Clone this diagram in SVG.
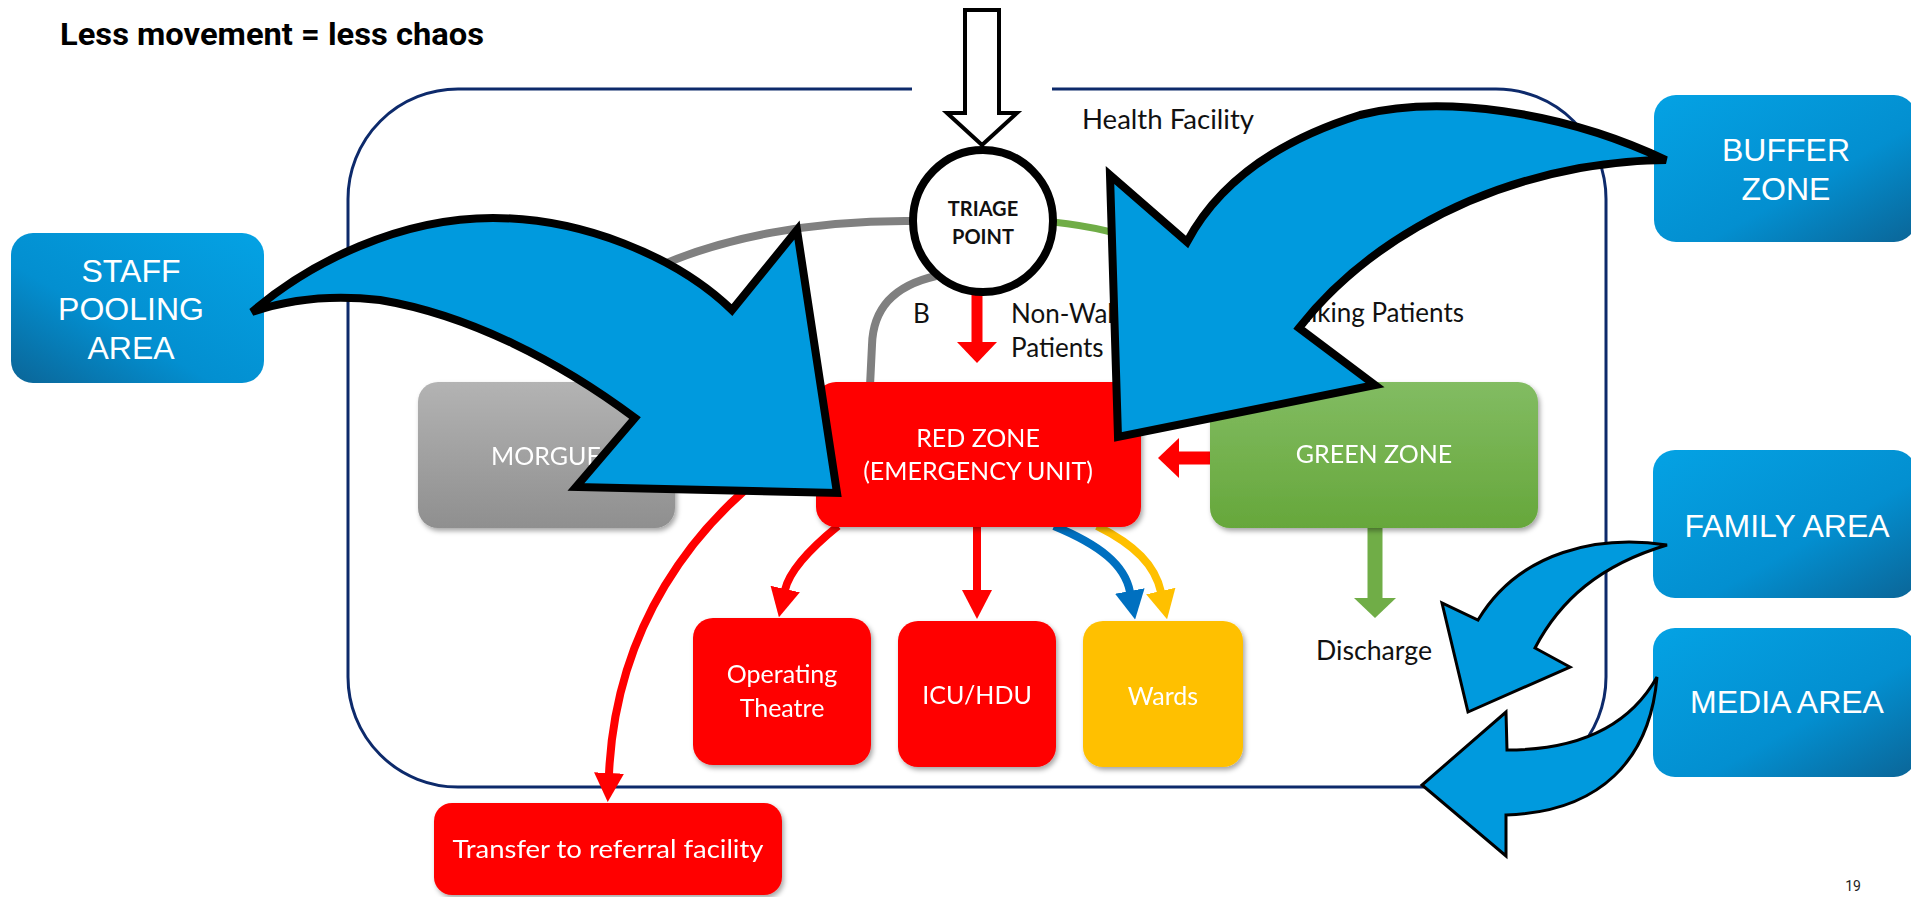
<svg xmlns="http://www.w3.org/2000/svg" width="1911" height="897" viewBox="0 0 1911 897">
<style>
.cal{font-family:Lato,"Open Sans","Liberation Sans",sans-serif;}
.ari{font-family:"Liberation Sans",Arial,sans-serif;fill:#fff;font-size:32px;text-anchor:middle;}
.wt{fill:#fff;text-anchor:middle;}
.lbl{fill:#111;font-size:26px;}
.blue{fill:#009ADE;stroke:#000;stroke-linejoin:miter;}
.big{stroke-width:8;}
.small{stroke-width:3;}
.red{stroke:#ff0000;fill:none;stroke-width:8;}
</style>
<defs>
<linearGradient id="gBlueR" x1="0" y1="0" x2="1" y2="1"><stop offset="0" stop-color="#04A2E4"/><stop offset="0.6" stop-color="#038FD0"/><stop offset="1" stop-color="#0B6597"/></linearGradient>
<linearGradient id="gBlueL" x1="1" y1="0" x2="0" y2="1"><stop offset="0" stop-color="#04A2E4"/><stop offset="0.6" stop-color="#038FD0"/><stop offset="1" stop-color="#0B6597"/></linearGradient>
<linearGradient id="gGray" x1="0" y1="0" x2="0" y2="1"><stop offset="0" stop-color="#B3B3B3"/><stop offset="1" stop-color="#8F8F8F"/></linearGradient>
<linearGradient id="gGreen" x1="0" y1="0" x2="0" y2="1"><stop offset="0" stop-color="#82BC62"/><stop offset="1" stop-color="#66A73B"/></linearGradient>
<filter id="sh" x="-10%" y="-10%" width="125%" height="130%"><feDropShadow dx="2" dy="3" stdDeviation="2.5" flood-color="#000" flood-opacity="0.35"/></filter>
<marker id="mRed" markerUnits="userSpaceOnUse" viewBox="0 0 29 30" markerWidth="29" markerHeight="30" refX="1" refY="15" orient="auto"><path d="M0,0 L29,15 L0,30 Z" fill="#ff0000"/></marker>
<marker id="mBlue" markerUnits="userSpaceOnUse" viewBox="0 0 29 30" markerWidth="29" markerHeight="30" refX="1" refY="15" orient="auto"><path d="M0,0 L29,15 L0,30 Z" fill="#0070C0"/></marker>
<marker id="mYel" markerUnits="userSpaceOnUse" viewBox="0 0 29 30" markerWidth="29" markerHeight="30" refX="1" refY="15" orient="auto"><path d="M0,0 L29,15 L0,30 Z" fill="#FFC000"/></marker>
<marker id="mRedB" markerUnits="userSpaceOnUse" viewBox="0 0 21 40" markerWidth="21" markerHeight="40" refX="1" refY="20" orient="auto"><path d="M0,0 L21,20 L0,40 Z" fill="#ff0000"/></marker>
<marker id="mGreen" markerUnits="userSpaceOnUse" viewBox="0 0 20 42" markerWidth="20" markerHeight="42" refX="1" refY="21" orient="auto"><path d="M0,0 L20,21 L0,42 Z" fill="#70AD47"/></marker>
</defs>
<rect width="1911" height="897" fill="#fff"/>
<text x="60" y="45" font-family="Roboto,'Liberation Sans',sans-serif" font-weight="bold" font-size="31" fill="#000" textLength="424" lengthAdjust="spacingAndGlyphs">Less movement = less chaos</text>

<g id="health-facility">
<path d="M1052 89 L1496 89 A110 110 0 0 1 1606 199 L1606 677 A110 110 0 0 1 1496 787 L458 787 A110 110 0 0 1 348 677 L348 199 A110 110 0 0 1 458 89 L912 89" fill="none" stroke="#0D2A6B" stroke-width="3"/>
<text class="cal lbl" x="1082" y="129" font-size="26" textLength="172" lengthAdjust="spacingAndGlyphs">Health Facility</text>
</g>

<g id="labels">
<text class="cal lbl" x="913" y="323" font-size="25">B</text>
<text class="cal lbl" x="1011" y="323" font-size="25">Non-Walking</text>
<text class="cal lbl" x="1011" y="357" font-size="25">Patients</text>
<text class="cal lbl" x="1464" y="322" font-size="25" text-anchor="end">Walking Patients</text>
<text class="cal lbl" x="1316" y="660" font-size="25" textLength="116" lengthAdjust="spacingAndGlyphs">Discharge</text>
</g>

<g id="connectors">
<path d="M914 221 C820 220 720 235 640 275" fill="none" stroke="#808080" stroke-width="8"/>
<path d="M936 276 C892 286 873 310 872 345 L870 386" fill="none" stroke="#808080" stroke-width="8"/>
<path d="M1053 222 C1090 226 1120 232 1150 245" fill="none" stroke="#70AD47" stroke-width="7"/>
<path d="M977 293 L977 343" fill="none" stroke="#ff0000" stroke-width="11" marker-end="url(#mRedB)"/>
<path d="M1211 458 L1178 458" fill="none" stroke="#ff0000" stroke-width="13" marker-end="url(#mRedB)"/>
<path d="M1375 528 L1375 599" fill="none" stroke="#70AD47" stroke-width="15" marker-end="url(#mGreen)"/>
<path class="red" d="M838 526 C806 552 789 572 785 590" marker-end="url(#mRed)"/>
<path class="red" d="M977 526 L977 591" marker-end="url(#mRed)"/>
<path d="M1054 526 C1100 545 1125 565 1130 592" fill="none" stroke="#0070C0" stroke-width="8" marker-end="url(#mBlue)"/>
<path d="M1097 526 C1135 545 1155 565 1161 592" fill="none" stroke="#FFC000" stroke-width="8" marker-end="url(#mYel)"/>
<path class="red" d="M762 476 C700 525 616 620 609 774" marker-end="url(#mRed)"/>
</g>

<g id="triage">
<ellipse cx="983" cy="221" rx="70" ry="71" fill="#fff" stroke="#000" stroke-width="8"/>
<text class="cal" x="983" y="216" font-size="20" font-weight="bold" fill="#111" text-anchor="middle">TRIAGE</text>
<text class="cal" x="983" y="244" font-size="20" font-weight="bold" fill="#111" text-anchor="middle">POINT</text>
</g>
<g id="entry-arrow">
<path d="M965 10 L999 10 L999 113 L1017 113 L982 145 L947 113 L965 113 Z" fill="#fff" stroke="#000" stroke-width="4" stroke-linejoin="miter"/>
</g>

<g id="morgue" filter="url(#sh)">
<rect x="418" y="382" width="257" height="146" rx="20" fill="url(#gGray)"/>
<text class="cal wt" x="546" y="465" font-size="25" fill="#f4f4f4">MORGUE</text>
</g>
<g id="red-zone" filter="url(#sh)">
<rect x="816" y="382" width="325" height="145" rx="20" fill="#ff0000"/>
<text class="cal wt" x="978" y="447" font-size="25">RED ZONE</text>
<text class="cal wt" x="978" y="480" font-size="25">(EMERGENCY UNIT)</text>
</g>
<g id="green-zone" filter="url(#sh)">
<rect x="1210" y="382" width="328" height="146" rx="20" fill="url(#gGreen)"/>
<text class="cal wt" x="1374" y="463" font-size="25" fill="#eef8e8">GREEN ZONE</text>
</g>
<g id="operating-theatre" filter="url(#sh)">
<rect x="693" y="618" width="178" height="147" rx="20" fill="#ff0000"/>
<text class="cal wt" x="782" y="683" font-size="25">Operating</text>
<text class="cal wt" x="782" y="717" font-size="25">Theatre</text>
</g>
<g id="icu-hdu" filter="url(#sh)">
<rect x="898" y="621" width="158" height="146" rx="20" fill="#ff0000"/>
<text class="cal wt" x="977" y="704" font-size="25">ICU/HDU</text>
</g>
<g id="wards" filter="url(#sh)">
<rect x="1083" y="621" width="160" height="146" rx="20" fill="#FFC000"/>
<text class="cal wt" x="1163" y="705" font-size="25">Wards</text>
</g>
<g id="transfer" filter="url(#sh)">
<rect x="434" y="803" width="348" height="92" rx="18" fill="#ff0000"/>
<text class="cal wt" x="608" y="858" font-size="25" textLength="311" lengthAdjust="spacingAndGlyphs">Transfer to referral facility</text>
</g>

<g id="staff-pooling">
<rect x="11" y="233" width="253" height="150" rx="22" fill="url(#gBlueL)"/>
<text class="ari" x="131" y="282">STAFF</text>
<text class="ari" x="131" y="320">POOLING</text>
<text class="ari" x="131" y="359">AREA</text>
</g>
<g id="buffer-zone">
<rect x="1654" y="95" width="262" height="147" rx="22" fill="url(#gBlueR)"/>
<text class="ari" x="1786" y="161">BUFFER</text>
<text class="ari" x="1786" y="200">ZONE</text>
</g>
<g id="family-area">
<rect x="1653" y="450" width="263" height="148" rx="22" fill="url(#gBlueR)"/>
<text class="ari" x="1787" y="537">FAMILY AREA</text>
</g>
<g id="media-area">
<rect x="1653" y="628" width="263" height="149" rx="22" fill="url(#gBlueR)"/>
<text class="ari" x="1787" y="713">MEDIA AREA</text>
</g>

<g id="flow-arrows">
<path class="blue big" d="M252 312 C310 262 400 218 493 218 C580 218 675 255 732 310 L797 230 L837 493 L576 487 L635 418 C560 362 470 315 380 300 Q310 292 252 312 Z"/>
<path class="blue big" d="M1666 160 C1560 110 1440 95 1360 115 C1280 140 1220 180 1187 242 L1110 175 L1118 437 L1375 385 L1299 328 C1360 250 1460 190 1580 168 Q1630 160 1666 160 Z"/>
<path class="blue small" d="M1667 545 C1600 535 1520 550 1478 620 L1442 603 L1468 712 L1570 667 L1535 648 C1560 600 1600 565 1667 545 Z"/>
<path class="blue small" d="M1657 677 C1630 725 1580 750 1507 750 L1506 712 L1422 785 L1506 856 L1506 815 C1600 812 1650 760 1657 677 Z"/>
</g>

<text x="1853" y="891" font-family="Roboto,'Liberation Sans',sans-serif" font-size="14" fill="#222" text-anchor="middle">19</text>
</svg>
